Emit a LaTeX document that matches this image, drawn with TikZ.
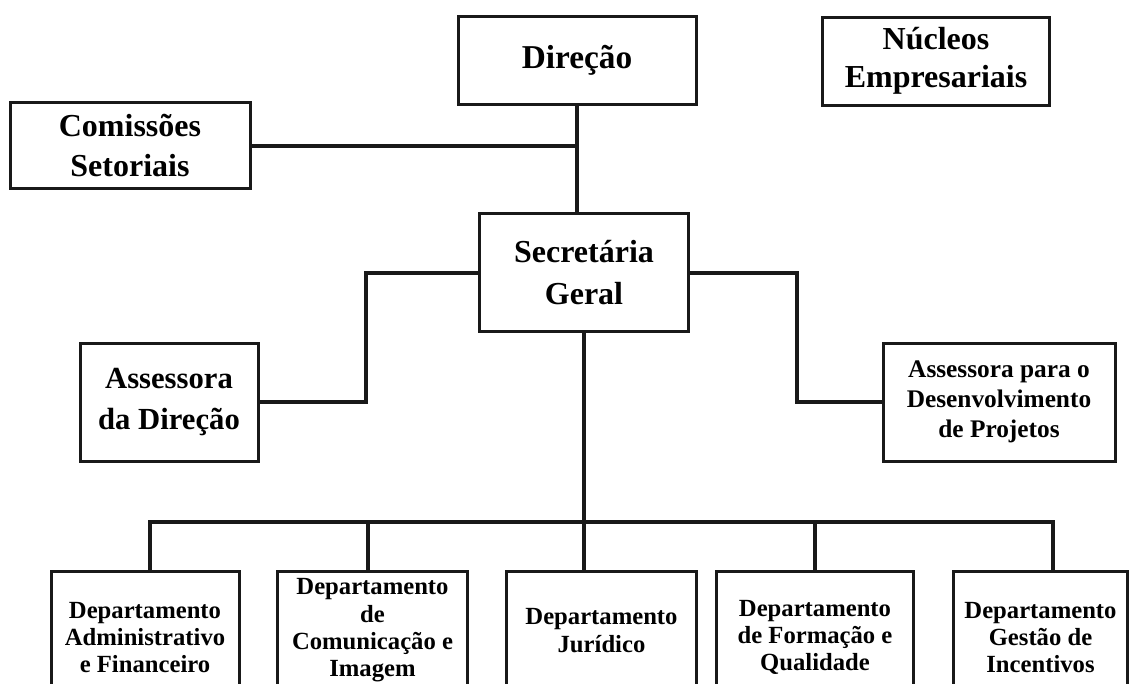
\documentclass[tikz,border=0pt]{standalone}
\usepackage{fontspec}
\setmainfont{Liberation Serif}
\usetikzlibrary{positioning,calc}

\begin{document}
\begin{tikzpicture}[x=0.75pt,y=-0.75pt,
    caixa/.style={draw=black!90,line width=2.25pt,align=center,inner sep=2pt},
    grande/.style={caixa,font=\fontsize{24}{29}\selectfont\bfseries},
    dep/.style={caixa,anchor=north,minimum height=99pt,font=\fontsize{18.5}{20.5}\selectfont\bfseries},
    liga/.style={line width=3pt,black!90}]

    \useasboundingbox (0,0) rectangle (1132,683);
    \clip (0,0) rectangle (1132,683);

    % topo
    \node[grande,minimum width=178.5pt,minimum height=66pt,font=\fontsize{25}{29}\selectfont\bfseries] (dir) at (577,60) {Direção};
    \node[grande,minimum width=170pt,minimum height=66pt,font=\fontsize{24}{28.5}\selectfont\bfseries] (nuc) at (936,61) {Núcleos\\Empresariais};
    \node[grande,minimum width=180pt,minimum height=64pt,font=\fontsize{24}{30}\selectfont\bfseries] (com) at (130,145.5) {Comissões\\Setoriais};

    % meio
    \node[grande,minimum width=157pt,minimum height=89pt,font=\fontsize{24}{31}\selectfont\bfseries] (sec) at (584,272.5) {Secretária\\Geral};
    \node[grande,minimum width=133.5pt,minimum height=88.5pt,font=\fontsize{23}{31}\selectfont\bfseries] (assdir) at (169,402) {Assessora\\da Direção};
    \node[caixa,minimum width=174pt,minimum height=88.5pt,font=\fontsize{19}{22.5}\selectfont\bfseries] (assproj) at (999,402) {Assessora para o\\Desenvolvimento\\de Projetos};

    % departamentos
    \node[dep,minimum width=141pt] (d1) at (145,570) {Departamento\\Administrativo\\e Financeiro};
    \node[dep,minimum width=142pt,minimum height=88.5pt] (d2) at (372.5,570) {Departamento\\de\\Comunicação e\\Imagem};
    \node[dep,minimum width=142pt,minimum height=88.5pt] (d3) at (601.5,570) {Departamento\\Jurídico};
    \node[dep,minimum width=148pt] (d4) at (815,570) {Departamento\\de Formação e\\Qualidade};
    \node[dep,minimum width=131pt] (d5) at (1040.5,570) {Departamento\\Gestão de\\Incentivos};

    % ligacoes
    \draw[liga] (dir.south) -- (dir.south |- sec.north);
    \draw[liga] (com.east) -- (com.east -| dir.south);
    \draw[liga] (sec.west) -- ++(-111.5,0) |- (assdir.east);
    \draw[liga] (sec.east) -- ++(106.5,0) |- (assproj.west);
    \draw[liga] (sec.south) -- ++(0,189) coordinate (bus) -- (sec.south |- d3.north);
    \draw[liga] ([xshift=3.75pt]d1.north) |- (bus) -| ([xshift=9.4pt]d5.north);
    \draw[liga] ([xshift=-3.4pt]d2.north) -- ([xshift=-3.4pt]d2.north |- bus);
    \draw[liga] (d4.north) -- (d4.north |- bus);

\end{tikzpicture}
\end{document}
